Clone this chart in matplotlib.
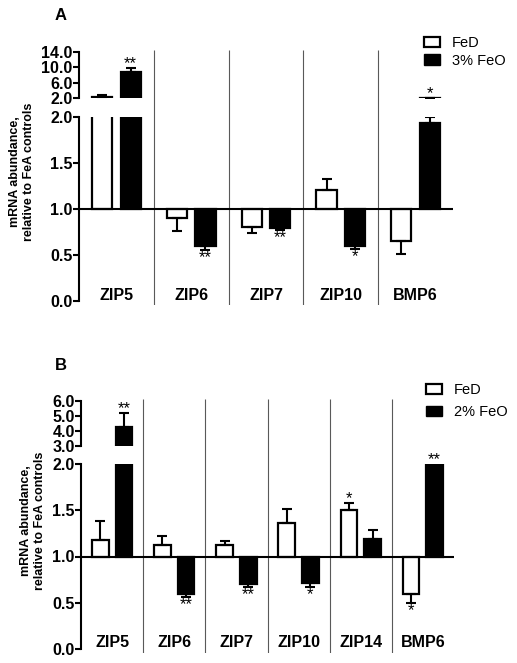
import matplotlib.pyplot as plt
from matplotlib.patches import Patch
import numpy as np

plt.rcParams['font.family'] = ['Liberation Sans', 'DejaVu Sans']

# panel A
genes_a = ['ZIP5', 'ZIP6', 'ZIP7', 'ZIP10', 'BMP6']
fed_a = [2.2, 0.90, 0.80, 1.21, 0.65]
fed_a_err = [0.6, 0.14, 0.06, 0.12, 0.14]
feo_a = [8.8, 0.60, 0.79, 0.60, 1.93]
feo_a_err = [0.9, 0.05, 0.02, 0.035, 0.07]
fed_a_stars = ['', '', '', '', '']
feo_a_stars = ['**', '**', '**', '*', '*']

# panel B
genes_b = ['ZIP5', 'ZIP6', 'ZIP7', 'ZIP10', 'ZIP14', 'BMP6']
fed_b = [1.18, 1.12, 1.12, 1.36, 1.50, 0.60]
fed_b_err = [0.20, 0.10, 0.05, 0.15, 0.08, 0.10]
feo_b = [4.3, 0.59, 0.70, 0.71, 1.19, 2.2]
feo_b_err = [0.9, 0.03, 0.03, 0.04, 0.10, 0.2]
fed_b_stars = ['', '', '', '', '*', '*']
feo_b_stars = ['**', '**', '**', '*', '', '**']

W, H = 517, 663
fig = plt.figure(figsize=(W / 100, H / 100), dpi=100)


def px(x0, y0, x1, y1):
    # pixel box (top-left origin) -> figure fraction rect
    return [x0 / W, 1 - y1 / H, (x1 - x0) / W, (y1 - y0) / H]


def draw_panel(genes, fed, fed_err, feo, feo_err, fed_stars, feo_stars,
               up_box, lo_box, up_lim, up_ticks, feo_name, letter,
               letter_xy, ylab_xy, leg_xy, leg_spacing):
    n = len(genes)
    x = np.arange(n)
    off, w = 0.19, 0.27

    sep = fig.add_axes(px(up_box[0], up_box[1] - 2, up_box[2], lo_box[3] + 4))
    sep.set_xlim(-0.5, n - 0.5)
    sep.set_ylim(0, 1)
    sep.axis('off')
    sep.vlines(np.arange(1, n) - 0.5, 0, 1, color='0.35', lw=0.8)

    ax_up = fig.add_axes(px(*up_box))
    ax_lo = fig.add_axes(px(*lo_box))
    for ax, lim, ticks in ((ax_up, up_lim, up_ticks), (ax_lo, (0, 2.0), [0, 0.5, 1.0, 1.5, 2.0])):
        ax.set_facecolor('none')
        ax.set_xlim(-0.5, n - 0.5)
        ax.set_ylim(*lim)
        ax.set_yticks(ticks)
        ax.set_yticklabels([f'{t:.1f}' for t in ticks], fontweight='bold')
        for s in ('top', 'right', 'bottom'):
            ax.spines[s].set_visible(False)
        ax.spines['left'].set_linewidth(1.5)
        ax.tick_params(axis='y', width=1.5, length=4, labelsize=11.5, pad=0.5)
        ax.set_xticks([])
        for xs, vals, errs, face in ((x - off, fed, fed_err, 'white'),
                                     (x + off, feo, feo_err, 'black')):
            vals = np.array(vals)
            errs = np.array(errs)
            ax.bar(xs, vals - 1, bottom=1, width=w, color=face,
                   edgecolor='black', lw=1.6, zorder=2)
            up = vals >= 1
            yerr = [np.where(up, 0, errs), np.where(up, errs, 0)]
            ax.errorbar(xs, vals, yerr=yerr, fmt='none', ecolor='black',
                        elinewidth=1.5, capsize=3.5, capthick=1.5, zorder=3)

    ax_lo.axhline(1.0, color='black', lw=1.5, zorder=4)

    for xs, vals, errs, stars in ((x - off, fed, fed_err, fed_stars),
                                  (x + off, feo, feo_err, feo_stars)):
        for xi, v, e, s in zip(xs, vals, errs, stars):
            if not s:
                continue
            if v >= 1:
                end = v + e
                if end >= up_lim[0]:
                    ax, y = ax_up, end
                else:
                    ax, y = ax_lo, min(end, 2.0)
                ax.annotate(s, (xi, y), xytext=(0, 0), textcoords='offset points',
                            ha='center', va='baseline', fontsize=12)
            else:
                ax_lo.annotate(s, (xi, v - e), xytext=(0, 0), textcoords='offset points',
                               ha='center', va='top', fontsize=12)

    for xi, g in zip(x, genes):
        ax_lo.text(xi, 0.065, g, ha='center', va='center', fontsize=11.5, fontweight='bold')

    fig.text(letter_xy[0] / W, 1 - letter_xy[1] / H, letter, ha='center', va='center',
             fontsize=12, fontweight='bold')
    fig.text(ylab_xy[0] / W, 1 - ylab_xy[1] / H, 'mRNA abundance,\nrelative to FeA controls',
             rotation=90, ha='center', va='center', fontsize=9, fontweight='bold',
             multialignment='center', linespacing=1.15)

    handles = [Patch(facecolor='white', edgecolor='black', lw=1.6),
               Patch(facecolor='black', edgecolor='black')]
    fig.legend(handles, ['FeD', feo_name], loc='upper left',
               bbox_to_anchor=(leg_xy[0] / W, 1 - leg_xy[1] / H), frameon=False,
               fontsize=10.5, borderpad=0, borderaxespad=0, handlelength=1.1,
               handleheight=0.7, handletextpad=0.8, labelspacing=leg_spacing)


draw_panel(genes_a, fed_a, fed_a_err, feo_a, feo_a_err, fed_a_stars, feo_a_stars,
           (79, 52, 453, 98), (79, 117, 453, 301), (2, 14), [2, 6, 10, 14],
           '3% FeO', 'A', (61, 15), (22, 172), (424, 36), 0.25)

draw_panel(genes_b, fed_b, fed_b_err, feo_b, feo_b_err, fed_b_stars, feo_b_stars,
           (81, 401, 454, 446), (81, 464, 454, 649), (3, 6), [3, 4, 5, 6],
           '2% FeO', 'B', (61, 366), (33, 521), (426, 383), 0.58)

fig.savefig('out.png', dpi=100)
